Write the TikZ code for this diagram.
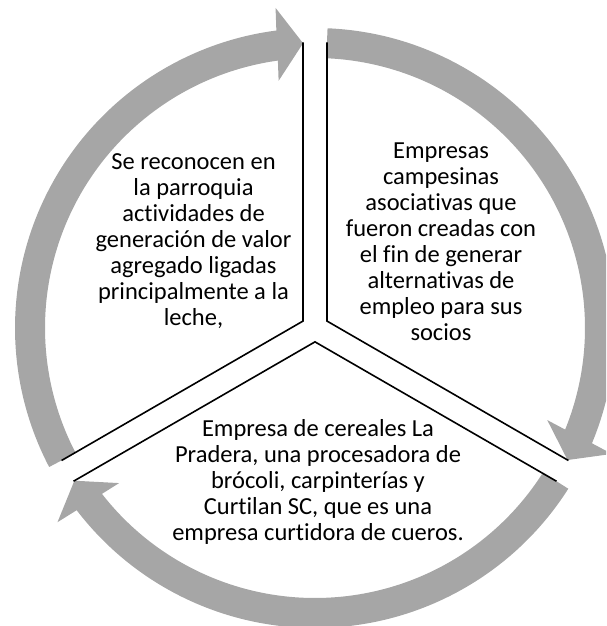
\documentclass[tikz,border=0pt]{standalone}
\usepackage{fontspec}
\setmainfont[Ligatures=NoCommon]{Carlito}
\usetikzlibrary{calc,positioning}

\definecolor{ringgray}{HTML}{A6A6A6}

\tikzset{
  ringarrow/.style={fill=ringgray,draw=none},
  sectorline/.style={line width=1.6pt,line join=miter,black},
  sectortext/.style={align=center,inner sep=0pt,font=\fontsize{24.5}{26}\selectfont}
}

% gray ring arrow: #1 = tail angle, #2 = tip angle (clockwise)
\newcommand{\ringarrow}[2]{%
  \fill[ringarrow] (#1:300) arc[start angle=#1,end angle=#2+5,radius=300]
    -- ($(#2:321.5)+(#2+90:26)$) -- (#2:285) -- ($(#2:248.5)+(#2+90:26)$)
    -- (#2+5.5:270) arc[start angle=#2+5.5,end angle=#1,radius=270] -- cycle;}

\begin{document}
\begin{tikzpicture}[x=1pt,y=1pt]

\path[use as bounding box] (-315,-298) rectangle (291,328);
\clip (-315,-298) rectangle (291,328);

\ringarrow{207.6}{92.4}
\ringarrow{87.6}{-27.6}
\ringarrow{-32.4}{-147.6}

\coordinate (tla) at (150:13.86);
\coordinate (tra) at (30:13.86);
\coordinate (ba) at (270:13.86);
\coordinate (tlv) at (92.4:286);
\coordinate (tll) at (207.6:286);
\coordinate (trv) at (87.6:286);
\coordinate (trl) at (-27.6:286);
\coordinate (br) at (-32.4:286);
\coordinate (bl) at (212.4:286);

\draw[sectorline] (tlv) -- (tla) -- (tll);
\draw[sectorline] (trv) -- (tra) -- (trl);
\draw[sectorline] (bl) -- (ba) -- (br);

\node[sectortext] (lefttext) at (-121.5,87) {Se reconocen en\\la parroquia\\actividades de\\generación de valor\\agregado ligadas\\principalmente a la\\leche,};
\node[sectortext] (righttext) at (126,86) {Empresas\\campesinas\\asociativas que\\fueron creadas con\\el fin de generar\\alternativas de\\empleo para sus\\socios};
\node[sectortext] (bottomtext) at (3,-154) {Empresa de cereales La\\Pradera, una procesadora de\\brócoli, carpinterías y\\Curtilan SC, que es una\\empresa curtidora de cueros.};

\end{tikzpicture}
\end{document}
